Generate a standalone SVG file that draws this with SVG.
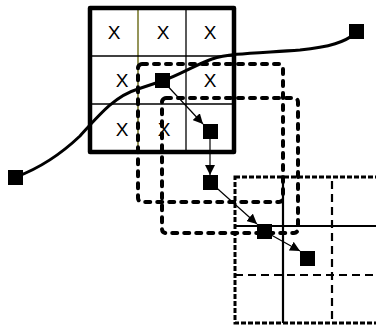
<svg xmlns="http://www.w3.org/2000/svg" width="376" height="327" viewBox="0 0 376 327">
<style>
.thin{stroke:#000;stroke-width:1.3;fill:none}
.lbl{font-family:"Liberation Sans",Arial,sans-serif;font-size:19px;fill:#000;text-anchor:middle}
.dot{stroke:#000;stroke-width:4;fill:none;stroke-dasharray:5,7;stroke-linecap:round}
.node{fill:#000}
.conn{stroke:#000;stroke-width:1.2;fill:none;marker-end:url(#ah)}
</style>
<defs>
<marker id="ah" viewBox="0 0 10 10" refX="10" refY="5" markerWidth="10" markerHeight="10" markerUnits="userSpaceOnUse" orient="auto">
<path d="M0,0 L10,5 L0,10 z" fill="#000"/>
</marker>
</defs>
<rect width="376" height="327" fill="#fff"/>
<g id="grid-top">
<line x1="138" y1="8" x2="138" y2="152" stroke="#5c5c00" stroke-width="1.3"/>
<line class="thin" x1="186" y1="8" x2="186" y2="152"/>
<line class="thin" x1="90" y1="56" x2="234" y2="56"/>
<line class="thin" x1="90" y1="104" x2="234" y2="104"/>
<rect x="90" y="8" width="144" height="144" fill="none" stroke="#000" stroke-width="4.5" stroke-linejoin="round"/>
<text class="lbl" x="114" y="39">X</text>
<text class="lbl" x="163" y="39">X</text>
<text class="lbl" x="210" y="39">X</text>
<text class="lbl" x="122" y="87">X</text>
<text class="lbl" x="210" y="87">X</text>
<text class="lbl" x="122" y="136">X</text>
<text class="lbl" x="164" y="136">X</text>
</g>
<g id="grid-bottom">
<rect x="235" y="177" width="146" height="146" fill="none" stroke="#000" stroke-width="3" stroke-dasharray="5,2"/>
<line x1="283" y1="177" x2="283" y2="323" stroke="#000" stroke-width="2.2"/>
<line x1="235" y1="226" x2="376" y2="226" stroke="#000" stroke-width="2.2"/>
<line x1="332" y1="181" x2="332" y2="323" stroke="#000" stroke-width="2.2" stroke-dasharray="8,5"/>
<line x1="235" y1="275" x2="376" y2="275" stroke="#000" stroke-width="2.2" stroke-dasharray="8,5"/>
</g>
<g id="window-1"><rect class="dot" x="138" y="64" width="145" height="138" rx="4"/></g>
<g id="window-2"><rect class="dot" x="162" y="98" width="136" height="135" rx="4"/></g>
<g id="curve">
<path d="M16,177 C40,168 60,155 80,136 C100,114 115,96 138,89 L162,81 C180,75 195,65 212,59 C230,53 260,53 300,50 C330,47 345,42 356,33" fill="none" stroke="#000" stroke-width="3"/>
</g>
<g id="connectors">
<line class="conn" x1="162" y1="80" x2="203" y2="124"/>
<line class="conn" x1="210" y1="131" x2="210" y2="175"/>
<line class="conn" x1="210" y1="182" x2="257" y2="224"/>
<line class="conn" x1="264" y1="231" x2="300" y2="251"/>
</g>
<g id="start"><rect class="node" x="8" y="170" width="15" height="15"/></g>
<g id="end"><rect class="node" x="349" y="24" width="15" height="15"/></g>
<g id="n1"><rect class="node" x="155" y="73" width="15" height="15"/></g>
<g id="n2"><rect class="node" x="203" y="124" width="15" height="15"/></g>
<g id="n3"><rect class="node" x="203" y="175" width="15" height="15"/></g>
<g id="n4"><rect class="node" x="257" y="224" width="15" height="15"/></g>
<g id="n5"><rect class="node" x="300" y="251" width="15" height="15"/></g>
</svg>
